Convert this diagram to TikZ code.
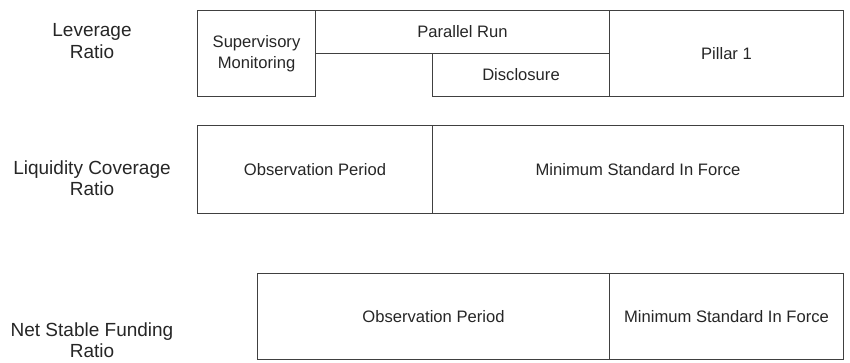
\documentclass[tikz,border=0pt]{standalone}
\usepackage{fontspec}
\setmainfont{Liberation Sans}
\begin{document}
\begin{tikzpicture}[x=1pt,y=-1pt,
  cell/.style={draw=black!75, line width=1pt, anchor=north west, inner sep=0pt,
    align=center, text=black!85, font=\fontsize{16.6}{20.5}\selectfont},
  rowlabel/.style={align=center, text=black!85, inner sep=0pt,
    font=\fontsize{19}{21.5}\selectfont}]
\useasboundingbox (0,0) rectangle (850,363);
% Leverage Ratio
\node[rowlabel] (lev) at (92,41) {Leverage\\Ratio};
\node[cell, minimum width=118, minimum height=86] (sup) at (197,10) {Supervisory\\Monitoring};
\node[cell, minimum width=294, minimum height=43] (par) at (315,10) {Parallel Run};
\node[cell, minimum width=177, minimum height=43] (dis) at (432,53) {Disclosure};
\node[cell, minimum width=234, minimum height=86] (pil) at (609,10) {Pillar 1};
% Liquidity Coverage Ratio
\node[rowlabel] (lcr) at (92,178) {Liquidity Coverage\\Ratio};
\node[cell, minimum width=235, minimum height=88] (lobs) at (197,125) {Observation Period};
\node[cell, minimum width=411, minimum height=88] (lmin) at (432,125) {Minimum Standard In Force};
% Net Stable Funding Ratio
\node[rowlabel] (nsfr) at (92,340) {Net Stable Funding\\Ratio};
\node[cell, minimum width=352, minimum height=86] (nobs) at (257,273) {Observation Period};
\node[cell, minimum width=234, minimum height=86] (nmin) at (609,273) {Minimum Standard In Force};
\end{tikzpicture}
\end{document}
